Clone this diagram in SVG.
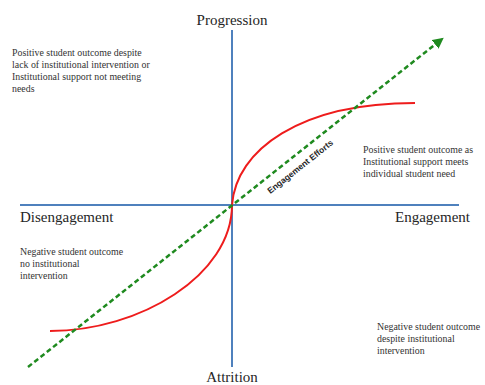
<svg xmlns="http://www.w3.org/2000/svg" width="485" height="385" viewBox="0 0 485 385">
  <style>
    .axis { stroke: #4f81bd; stroke-width: 2; fill: none; }
    .curve { stroke: #ee1c1c; stroke-width: 2; fill: none; }
    .effort { stroke: #1f8a1f; stroke-width: 2.5; stroke-dasharray: 5 3; fill: none; }
    .axis-label { font-family: "Liberation Serif", "DejaVu Serif", serif; font-size: 15px; fill: #262626; }
    .note { font-family: "Liberation Serif", "DejaVu Serif", serif; font-size: 9.9px; fill: #333333; }
    .effort-label { font-family: "Liberation Sans", "DejaVu Sans", sans-serif; font-size: 8.5px; font-weight: bold; fill: #262626; }
  </style>
  <defs>
    <marker id="arrow" viewBox="0 0 10 10" refX="8" refY="5" markerWidth="4.4" markerHeight="4.4" orient="auto" markerUnits="strokeWidth">
      <path d="M0,0 L10,5 L0,10 z" fill="#1f8a1f"/>
    </marker>
  </defs>
  <rect width="485" height="385" fill="#ffffff"/>

  <g id="connectors">
    <line class="axis" x1="232" y1="30" x2="232" y2="367"/>
    <line class="axis" x1="20" y1="205" x2="459" y2="205"/>
    <path class="curve" d="M50,331 C140,331 232,275 232,205 C236,150 300,103 415,103"/>
    <line class="effort" x1="28" y1="367" x2="442" y2="39" marker-end="url(#arrow)"/>
  </g>

  <g id="progression"><text class="axis-label" x="232" y="25" text-anchor="middle">Progression</text></g>
  <g id="attrition"><text class="axis-label" x="232" y="382" text-anchor="middle">Attrition</text></g>
  <g id="disengagement"><text class="axis-label" x="20" y="222">Disengagement</text></g>
  <g id="engagement"><text class="axis-label" x="470" y="222" text-anchor="end">Engagement</text></g>

  <g id="engagement-efforts">
    <text class="effort-label" x="0" y="0" text-anchor="middle" transform="translate(302,169) rotate(-38.4)">Engagement Efforts</text>
  </g>

  <g id="quadrant-top-left">
    <text class="note" x="12" y="56">Positive student outcome despite</text>
    <text class="note" x="12" y="68">lack of institutional intervention or</text>
    <text class="note" x="12" y="80">Institutional support not meeting</text>
    <text class="note" x="12" y="92">needs</text>
  </g>
  <g id="quadrant-top-right">
    <text class="note" x="363" y="153">Positive student outcome as</text>
    <text class="note" x="363" y="165">Institutional support meets</text>
    <text class="note" x="363" y="177">individual student need</text>
  </g>
  <g id="quadrant-bottom-left">
    <text class="note" x="20" y="255">Negative student outcome</text>
    <text class="note" x="20" y="267">no institutional</text>
    <text class="note" x="20" y="279">intervention</text>
  </g>
  <g id="quadrant-bottom-right">
    <text class="note" x="377" y="330">Negative student outcome</text>
    <text class="note" x="377" y="342">despite institutional</text>
    <text class="note" x="377" y="354">intervention</text>
  </g>
</svg>
